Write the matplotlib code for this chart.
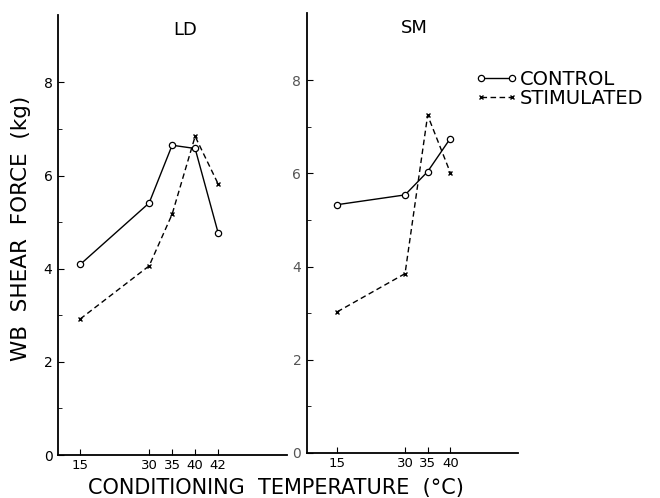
import numpy as np
import matplotlib
matplotlib.use("Agg")
import matplotlib.pyplot as plt

# conditioning temperatures (degC)
temps_ld = [15, 30, 35, 40, 42]
temps_sm = [15, 30, 35, 40]

# WB shear force (kg)
ld_control = [4.09, 5.41, 6.65, 6.58, 4.77]
ld_stim = [2.92, 4.06, 5.17, 6.84, 5.82]
sm_control = [5.33, 5.54, 6.04, 6.75]
sm_stim = [3.03, 3.85, 7.25, 6.02]

yticks = [0, 2, 4, 6, 8]

plt.rcParams['font.family'] = 'DejaVu Sans'

fig = plt.figure(figsize=(6.6, 4.98), dpi=100)
ax1 = fig.add_axes([0.088, 0.0863, 0.347, 0.884])
ax2 = fig.add_axes([0.465, 0.0904, 0.32, 0.884])

# the LD axis is stretched between 40 and 42 in the original
knots_in = [0, 40, 42, 100]
knots_out = [0, 40, 45, 103]
def fwd(x):
    return np.interp(x, knots_in, knots_out)
def inv(x):
    return np.interp(x, knots_out, knots_in)
ax1.set_xscale('function', functions=(fwd, inv))

def draw(ax, t, ctrl, stim, title, xlim, tx, lab_col):
    ax.plot(t, ctrl, '-', color='black', lw=1.0, marker='o', ms=4.5,
            mfc='white', mec='black', mew=0.9, label='CONTROL')
    ax.plot(t, stim, '--', color='black', lw=1.0, marker='x', ms=3,
            mew=1.0, dashes=(4, 2.5), label='STIMULATED')
    ax.set_xlim(*xlim)
    ax.set_ylim(0, 9.45)
    ax.set_xticks(t)
    ax.set_xticklabels([str(v) for v in t])
    ax.set_yticks(yticks)
    ax.set_yticks([1, 3, 5, 7], minor=True)
    ax.xaxis.set_minor_locator(matplotlib.ticker.NullLocator())
    ax.tick_params(axis='both', direction='in', length=4, width=0.8,
                   labelsize=10, colors='black', pad=4)
    ax.tick_params(axis='x', labelsize=9.5, pad=3)
    ax.tick_params(axis='y', labelcolor=lab_col)
    ax.tick_params(axis='y', which='minor', direction='in', length=3)
    for s in ['top', 'right']:
        ax.spines[s].set_visible(False)
    for s in ['left', 'bottom']:
        ax.spines[s].set_linewidth(1.3)
    ax.text(tx, 0.966, title, transform=ax.transAxes, fontsize=13,
            ha='center', va='center')

draw(ax1, temps_ld, ld_control, ld_stim, 'LD', (10.2, 57), 0.555, 'black')
draw(ax2, temps_sm, sm_control, sm_stim, 'SM', (8.3, 55), 0.51, '#555555')

ax1.set_ylabel('WB  SHEAR  FORCE  (kg)', fontsize=15.5)
ax1.yaxis.set_label_coords(-0.12, 0.515)
fig.text(0.418, 0.008, 'CONDITIONING  TEMPERATURE  (°C)', fontsize=15,
         ha='center', va='baseline')

h, l = ax2.get_legend_handles_labels()
fig.legend(h, l, loc='upper left', bbox_to_anchor=(0.708, 0.876),
           frameon=False, numpoints=2, handlelength=2.2, handletextpad=0.1,
           fontsize=14, labelspacing=0.0, borderaxespad=0)

fig.savefig('out.png', dpi=100)
